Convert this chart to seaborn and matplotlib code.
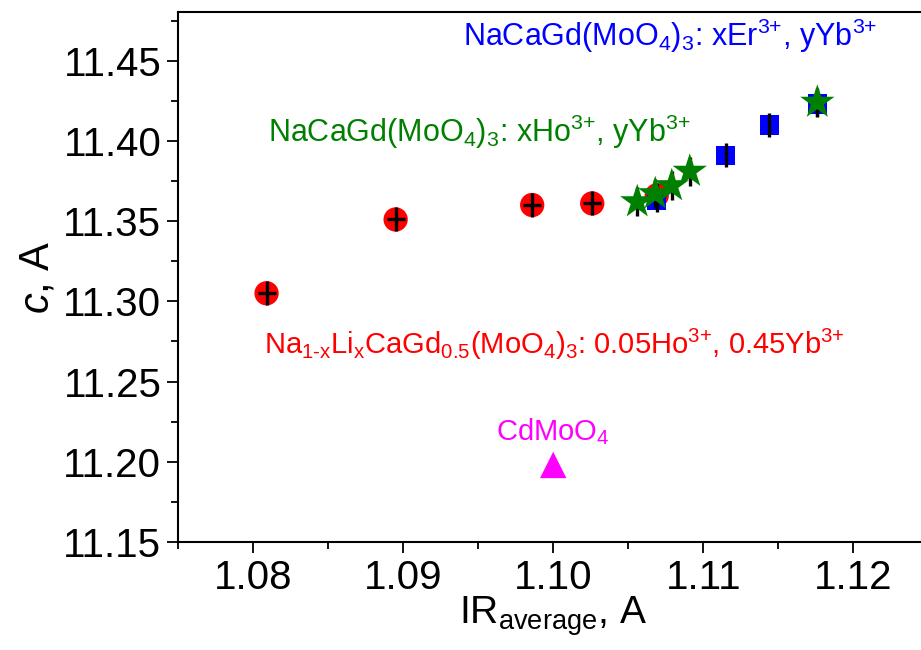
import matplotlib
matplotlib.use('Agg')
import matplotlib.pyplot as plt
import numpy as np
import pandas as pd
import seaborn as sns
from matplotlib.ticker import MultipleLocator

# Na(1-x)LixCaGd0.5(MoO4)3: 0.05Ho, 0.45Yb
li_x = [1.0809, 1.0895, 1.0986, 1.1026, 1.1069]
li_c = [11.305, 11.351, 11.360, 11.361, 11.366]
li_xerr = 0.0006
li_cerr = 0.0075

# NaCaGd(MoO4)3: xEr, yYb
er_x = [1.1069, 1.1115, 1.1144, 1.1176]
er_c = [11.363, 11.391, 11.410, 11.423]
er_cerr = 0.0075

# NaCaGd(MoO4)3: xHo, yYb
ho_x = [1.1056, 1.1068, 1.1079, 1.1091, 1.1176]
ho_c = [11.362, 11.367, 11.372, 11.381, 11.424]
ho_cerr = 0.009

# CdMoO4
cd_x = [1.1000]
cd_c = [11.198]

sns.set_style('ticks')
plt.rcParams['font.family'] = ['Liberation Sans', 'DejaVu Sans']
plt.rcParams['mathtext.fontset'] = 'custom'
plt.rcParams['mathtext.rm'] = 'Liberation Sans'
plt.rcParams['mathtext.it'] = 'Liberation Sans:italic'
plt.rcParams['mathtext.bf'] = 'Liberation Sans:bold'
plt.rcParams['axes.labelcolor'] = 'black'
plt.rcParams['text.color'] = 'black'

fig = plt.figure(figsize=(9.21, 6.5), dpi=100)
ax = fig.add_axes([0.1933, 0.1662, 0.8147, 0.8146])

li = pd.DataFrame({'x': li_x, 'c': li_c})
er = pd.DataFrame({'x': er_x, 'c': er_c})
ho = pd.DataFrame({'x': ho_x, 'c': ho_c})
cd = pd.DataFrame({'x': cd_x, 'c': cd_c})

sns.scatterplot(data=li, x='x', y='c', ax=ax, marker='o', s=17.5**2,
                color='#ff0000', edgecolor='none', zorder=2)
ax.errorbar(li_x, li_c, xerr=li_xerr, yerr=li_cerr, fmt='none',
            ecolor='black', elinewidth=2.4, capsize=0, zorder=3)

sns.scatterplot(data=er, x='x', y='c', ax=ax, marker='s', s=14**2,
                color='#0000ff', edgecolor='none', zorder=4)
ax.errorbar(er_x, er_c, yerr=er_cerr, fmt='none',
            ecolor='black', elinewidth=2.4, capsize=0, zorder=5)

ax.errorbar(ho_x, ho_c, yerr=ho_cerr, fmt='none',
            ecolor='black', elinewidth=2.4, capsize=0, zorder=6)
sns.scatterplot(data=ho, x='x', y='c', ax=ax, marker='*', s=26**2,
                color='#008000', edgecolor='none', zorder=7)

sns.scatterplot(data=cd, x='x', y='c', ax=ax, marker='^', s=19**2,
                color='#ff00ff', edgecolor='none', zorder=7)

ax.text(1.0940, 11.4593,
        r'NaCaGd(MoO$_4$)$_3$: xEr$^{\text{3+}}$, yYb$^{\text{3+}}$',
        color='#0000ff', fontsize=22, va='baseline')
ax.text(1.0810, 11.3991,
        r'NaCaGd(MoO$_4$)$_3$: xHo$^{\text{3+}}$, yYb$^{\text{3+}}$',
        color='#008000', fontsize=22, va='baseline')
ax.text(1.0807, 11.2674,
        r'Na$_{\text{1-x}}$Li$_{\text{x}}$CaGd$_{\text{0.5}}$(MoO$_4$)$_3$: '
        r'0.05Ho$^{\text{3+}}$, 0.45Yb$^{\text{3+}}$',
        color='#ff0000', fontsize=21, va='baseline')
ax.text(1.0962, 11.2135, r'CdMoO$_4$', color='#ff00ff', fontsize=21,
        va='baseline')

ax.set_xlim(1.075, 1.125)
ax.set_ylim(11.15, 11.48)
ax.xaxis.set_major_locator(MultipleLocator(0.01))
ax.xaxis.set_minor_locator(MultipleLocator(0.005))
ax.yaxis.set_major_locator(MultipleLocator(0.05))
ax.yaxis.set_minor_locator(MultipleLocator(0.025))
ax.xaxis.set_major_formatter(matplotlib.ticker.FormatStrFormatter('%.2f'))
ax.yaxis.set_major_formatter(matplotlib.ticker.FormatStrFormatter('%.2f'))

ax.tick_params(which='major', direction='out', length=8, width=1.3,
               labelsize=29, colors='black', pad=4)
ax.tick_params(which='minor', direction='out', length=5, width=1.3,
               colors='black')
for side in ['left', 'bottom', 'top', 'right']:
    ax.spines[side].set_linewidth(1.5)
    ax.spines[side].set_color('black')

ax.set_xlabel(r'IR$_{\text{average}}$, A', fontsize=28, labelpad=-2)
ax.set_ylabel(r'$c$, A', fontsize=30, labelpad=4)

fig.savefig('out.png', dpi=100)
